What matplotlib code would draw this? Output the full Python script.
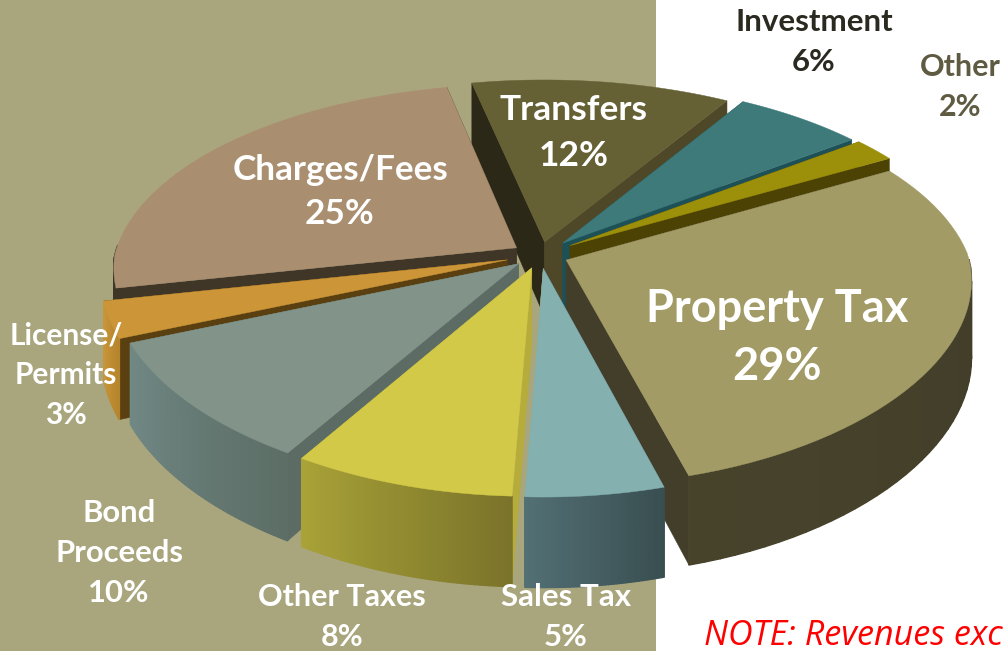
"""Exploded 3D revenue pie, drawn by hand because matplotlib has no perspective pie."""
import matplotlib
matplotlib.use("Agg")
import matplotlib.pyplot as plt
from matplotlib.colors import to_rgb
from matplotlib.patches import Rectangle
import numpy as np

# ── data ──
SOURCES = ["Property Tax", "Sales Tax", "Other Taxes", "Bond\nProceeds", "License/\nPermits",
           "Charges/Fees", "Transfers", "Investment", "Other"]
SHARES = [29, 5, 8, 10, 3, 25, 12, 6, 2]

# ── style ──
TOP_COLORS = ["#A29B65", "#85B0B0", "#D2C948", "#82948A", "#CC9638",
              "#A98F70", "#666035", "#3E7A7A", "#9C900A"]
WALL_START = ["#47432B", "#526F74", "#A9A238", "#718885", "#C9953A",
              "#403628", "#4E4828", "#255A60", "#4C4204"]
WALL_END = ["#3E3A28", "#394E50", "#7A732A", "#5C6E66", "#B5842C",
            "#403628", "#4E4828", "#255A60", "#4C4204"]
# cut faces at the first / last edge of each slice (clockwise order)
CUT_START = ["#423E2A", "#3F5458", "#B5AC3C", "#5C6C64", "#5A4010",
             "#403628", "#2C2818", "#1E5058", "#4C4204"]
CUT_END = ["#423E2A", "#B0AA50", "#B5AC3C", "#5C6C64", "#5A4010",
           "#403628", "#4E4828", "#1E5058", "#4C4204"]
EXPLODE = [0.07, 0.07, 0.07, 0.07, 0.085, 0.07, 0.07, 0.085, 0.09]
DRAW_ORDER = [6, 7, 8, 5, 4, 3, 0, 2, 1]

CX, CY = 540, 255
RX, RY = 402, 190
PERSP = 0.15
PERSP_FRONT_X = 0.10  # front of the pie is not as wide as true perspective would make it
DEPTH = 76
START_DEG = 30

LABEL_XY = [(777, 338), (566, 617), (342, 617), (119, 553), (66, 375),
            (340, 192), (574, 133), (814, 42), (960, 87)]
LABEL_COLOR = ["white", "white", "white", "white", "white", "white", "white", "#2A2A20", "#5F5A42"]
LABEL_SIZE = [32.5, 22.5, 22, 22.3, 21.5, 25.3, 25.5, 22.5, 22]
BG_COLOR = "#A9A67E"


def project(u, v, drop=0.0):
    u, v = np.asarray(u, float), np.asarray(v, float)
    w = 1 + PERSP * v
    wx = np.where(v > 0, w, 1 + PERSP_FRONT_X * v)
    return CX + RX * u / wx, CY - RY * v / w + drop / w


def mix(c0, c1, t):
    a, b = np.array(to_rgb(c0)), np.array(to_rgb(c1))
    return tuple(a + (b - a) * t)


plt.rcParams["font.family"] = ["Lato", "DejaVu Sans"]
fig = plt.figure(figsize=(10.05, 6.51), dpi=100)
ax = fig.add_axes([0, 0, 1, 1])
ax.set_xlim(0, 1005)
ax.set_ylim(651, 0)
ax.axis("off")
ax.add_patch(Rectangle((0, 0), 656, 651, color=BG_COLOR, lw=0, zorder=0))

# slices run clockwise from the start angle
edges = START_DEG - np.cumsum([0] + SHARES) * 3.6

for i in DRAW_ORDER:
    a0, a1 = np.radians(edges[i]), np.radians(edges[i + 1])
    mid = (a0 + a1) / 2
    tu, tv = EXPLODE[i] * np.cos(mid), EXPLODE[i] * np.sin(mid)
    angles = np.linspace(a0, a1, 50)
    uu, vv = tu + np.cos(angles), tv + np.sin(angles)
    top_x, top_y = project(uu, vv)
    low_x, low_y = project(uu, vv, DEPTH)
    tip_x, tip_y = project(tu, tv)
    tip_lx, tip_ly = project(tu, tv, DEPTH)

    # cut faces
    ax.fill([tip_x, top_x[0], low_x[0], tip_lx], [tip_y, top_y[0], low_y[0], tip_ly],
            color=CUT_START[i], lw=0.3)
    ax.fill([tip_x, top_x[-1], low_x[-1], tip_lx], [tip_y, top_y[-1], low_y[-1], tip_ly],
            color=CUT_END[i], lw=0.3)

    # outer wall, shaded left to right on screen; the back of the rim stays hidden
    left_first = top_x[0] < top_x[-1]
    for j in range(len(angles) - 1):
        if np.sin((angles[j] + angles[j + 1]) / 2) > 0.02:
            continue
        t = j / (len(angles) - 2)
        shade = mix(WALL_START[i], WALL_END[i], t if left_first else 1 - t)
        ax.fill([top_x[j], top_x[j + 1], low_x[j + 1], low_x[j]],
                [top_y[j], top_y[j + 1], low_y[j + 1], low_y[j]],
                color=shade, lw=1.0)

    ax.fill(np.r_[tip_x, top_x], np.r_[tip_y, top_y], color=TOP_COLORS[i], lw=0.3)

for i, name in enumerate(SOURCES):
    ax.text(*LABEL_XY[i], f"{name}\n{SHARES[i]}%", ha="center", va="center",
            color=LABEL_COLOR[i], fontsize=LABEL_SIZE[i], fontweight="bold", linespacing=1.5)

ax.text(704, 636, "NOTE: Revenues exc", color="#FF0000", fontsize=24.6, style="italic",
        ha="left", va="center", family="Open Sans", clip_on=True)

fig.savefig("out.png", dpi=100)
